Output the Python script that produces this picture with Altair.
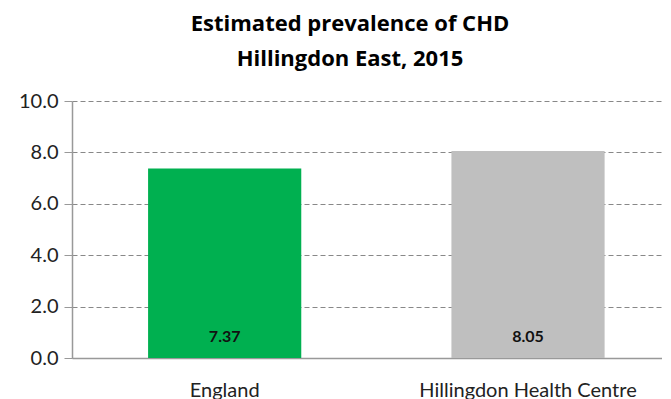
import altair as alt
import pandas as pd

areas = ["England", "Hillingdon Health Centre"]
values = [7.37, 8.05]
colors = ["#00B050", "#BFBFBF"]
labels = ["7.37", "8.05"]
title_lines = ["Estimated prevalence of CHD", "Hillingdon East, 2015"]

df = pd.DataFrame({"area": areas, "value": values, "color": colors, "label": labels})

FONT = "Lato"

x = alt.X("area:N", sort=areas, title=None,
          scale=alt.Scale(paddingInner=0.495, paddingOuter=0.22, align=0.57),
          axis=alt.Axis(labelAngle=0, labelFontSize=20, labelFont=FONT, labelColor="#222",
                        labelPadding=22, labelLimit=0, ticks=False, domainColor="#999",
                        domainWidth=1.5))
y_scale = alt.Scale(domain=[0, 10])
y = alt.Y("value:Q", scale=y_scale, title=None,
          axis=alt.Axis(values=[0, 2, 4, 6, 8, 10], format=".1f", labelFontSize=20, labelFont=FONT,
                        labelColor="#222", labelPadding=6, tickSize=8, tickColor="#999",
                        domainColor="#999", domainWidth=1.5, gridColor="#888", gridDash=[5, 3],
                        gridWidth=1))

bars = alt.Chart(df).mark_bar().encode(
    x=x, y=y, color=alt.Color("color:N", scale=None)
)
text = alt.Chart(df).mark_text(font=FONT, fontSize=16, fontWeight="bold", color="#111", dy=-21,
                               baseline="middle").encode(
    x=alt.X("area:N", sort=areas), y=alt.datum(0), text="label:N"
)

chart = alt.layer(bars, text).properties(
    width=590, height=257,
    padding={"left": 10, "top": 5, "right": 0, "bottom": 0},
    title=alt.TitleParams(title_lines, font="Open Sans", fontSize=22, fontWeight="bold", color="#000",
                          lineHeight=35, anchor="middle", offset=20, dx=-17),
).configure_view(stroke=None)

chart.save("out.html", embed_options={"renderer": "svg", "actions": False})
